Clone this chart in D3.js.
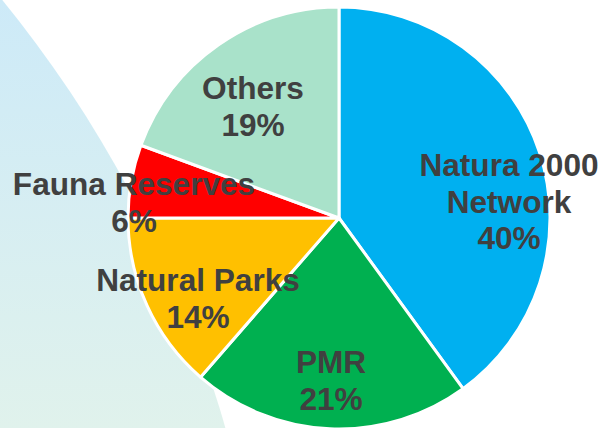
<!DOCTYPE html>
<html>
<head>
<meta charset="utf-8">
<script src="https://cdn.jsdelivr.net/npm/d3@7"></script>
<style>
  html, body { margin: 0; padding: 0; background: #fff; }
  svg { display: block; }
</style>
</head>
<body>
<svg id="chart" width="605" height="428"></svg>
<script>
// données du graphique
var categories = ["Natura 2000 Network", "PMR", "Natural Parks", "Fauna Reserves", "Others"];
var values = [40.0, 21.4, 13.6, 5.6, 19.4];
var labelLines = [["Natura 2000", "Network"], ["PMR"], ["Natural Parks"], ["Fauna Reserves"], ["Others"]];
var colors = ["#00b0f0", "#00b050", "#ffc000", "#ff0000", "#a9e2ca"];

// placement des étiquettes (décalage par rapport au centre)
var labelOffsets = [[170, -42], [-8, 155], [-141, 73], [-205, -23], [-86, -119]];

var width = 605, height = 428;
var cx = 339, cy = 218, radius = 211;

var svg = d3.select("#chart");

// fond décoratif en dégradé
var defs = svg.append("defs");
var grad = defs.append("linearGradient")
  .attr("id", "bg")
  .attr("gradientUnits", "userSpaceOnUse")
  .attr("x1", 0).attr("y1", 0).attr("x2", 0).attr("y2", height);
grad.append("stop").attr("offset", "0%").attr("stop-color", "#cdeaf8");
grad.append("stop").attr("offset", "100%").attr("stop-color", "#e0f2ec");

svg.append("circle")
  .attr("cx", -924)
  .attr("cy", 755)
  .attr("r", 1195)
  .attr("fill", "url(#bg)");

// camembert
var data = categories.map(function (c, i) {
  return { name: c, value: values[i], lines: labelLines[i], color: colors[i], off: labelOffsets[i] };
});

var pie = d3.pie().sort(null).value(function (d) { return d.value; });
var arc = d3.arc().innerRadius(0).outerRadius(radius);

var g = svg.append("g").attr("transform", "translate(" + cx + "," + cy + ")");

g.selectAll("path")
  .data(pie(data))
  .enter()
  .append("path")
  .attr("d", arc)
  .attr("fill", function (d) { return d.data.color; })
  .attr("stroke", "#fff")
  .attr("stroke-width", 3)
  .attr("stroke-linejoin", "round");

// étiquettes
var lineH = 36.5;
var labels = g.selectAll("text.lbl")
  .data(pie(data))
  .enter()
  .append("text")
  .attr("class", "lbl")
  .attr("text-anchor", "middle")
  .attr("font-family", "'Liberation Sans', Arial, sans-serif")
  .attr("font-weight", "bold")
  .attr("font-size", 31.6)
  .attr("fill", "#404040");

labels.each(function (d) {
  var t = d3.select(this);
  var lines = d.data.lines.concat([Math.round(d.data.value) + "%"]);
  lines.forEach(function (l, i) {
    t.append("tspan")
      .attr("x", d.data.off[0])
      .attr("y", d.data.off[1] + i * lineH)
      .text(l);
  });
});
</script>
</body>
</html>
